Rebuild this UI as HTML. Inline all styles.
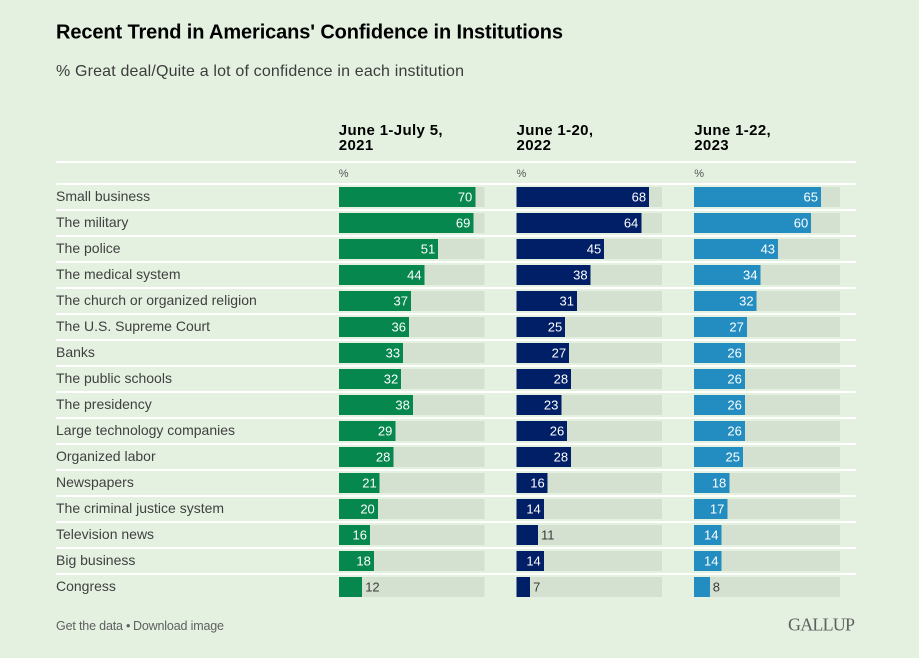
<!DOCTYPE html>
<html lang="en">
<head>
<meta charset="utf-8">
<title>Recent Trend in Americans' Confidence in Institutions</title>
<style>
html,body{margin:0;padding:0;background:#e4f1e1;width:919px;height:658px;overflow:hidden}
svg{display:block}
text{font-family:"Liberation Sans",sans-serif}
</style>
</head>
<body>
<svg id="chart" width="919" height="658" viewBox="0 0 919 658" xmlns="http://www.w3.org/2000/svg">
<rect width="919" height="658" fill="#e4f1e1"/>
<text x="56" y="38.5" font-size="20" font-weight="700" fill="#000" textLength="507">Recent Trend in Americans' Confidence in Institutions</text>
<text x="56" y="76" font-size="16" fill="#3c3c3c" textLength="408">% Great deal/Quite a lot of confidence in each institution</text>
<text x="56" y="630" font-size="12.5" fill="#5f5f5f" textLength="67">Get the data</text>
<text x="126" y="630" font-size="12.5" fill="#5f5f5f">•</text>
<text x="133" y="630" font-size="12.5" fill="#5f5f5f" textLength="91">Download image</text>
<text x="788" y="630.5" font-size="18" fill="#5f5f5f" textLength="67" style="font-family:'Liberation Serif',serif">GALLUP</text>
</svg>
<script>
var categories = ["Small business","The military","The police","The medical system","The church or organized religion","The U.S. Supreme Court","Banks","The public schools","The presidency","Large technology companies","Organized labor","Newspapers","The criminal justice system","Television news","Big business","Congress"];
var periodLine1 = ["June 1-July 5,","June 1-20,","June 1-22,"];
var periodLine2 = ["2021","2022","2023"];
var values2021 = [70,69,51,44,37,36,33,32,38,29,28,21,20,16,18,12];
var values2022 = [68,64,45,38,31,25,27,28,23,26,28,16,14,11,14,7];
var values2023 = [65,60,43,34,32,27,26,26,26,26,25,18,17,14,14,8];
var trackMax = 74.67;

var svg = document.getElementById('chart');
var NS = 'http://www.w3.org/2000/svg';
var seriesValues = [values2021, values2022, values2023];
var seriesColors = ['#06874e', '#001f66', '#238dc1'];
var seriesLeft = [338.8, 516.5, 694.2];
var slug = ['2021', '2022', '2023'];

function xLen(v) { return v * 145.6 / trackMax; }
function rowTop(i) { return 187 + i * 26; }

function make(tag, attrs, txt) {
  var el = document.createElementNS(NS, tag);
  for (var k in attrs) el.setAttribute(k, attrs[k]);
  if (txt !== undefined) el.textContent = txt;
  svg.appendChild(el);
  return el;
}
function kebab(s) {
  return s.toLowerCase().replace(/[^a-z0-9]+/g, '-').replace(/^-|-$/g, '');
}

var hdr = make('rect', {x: 56, y: 161, width: 800, height: 2, fill: '#fff'});



categories.forEach(function (cat, i) {
  var top = rowTop(i);
  var rule = make('rect', {x: 56, y: top - 4, width: 800, height: 2, fill: '#fff'});
  
  
  var lab = make('text', {x: 56, y: top + 14, 'font-size': 14, fill: '#404040'}, cat);
  
  
});

seriesValues.forEach(function (vals, s) {
  var left = seriesLeft[s];
  var h1 = make('text', {x: left, y: 135, 'font-size': 15, 'font-weight': 700, fill: '#000', 'letter-spacing': '0.35'}, periodLine1[s]);
  
  
  var h2 = make('text', {x: left, y: 150, 'font-size': 15, 'font-weight': 700, fill: '#000', 'letter-spacing': '0.35'}, periodLine2[s]);
  
  
  var pct = make('text', {x: left, y: 177, 'font-size': 11, fill: '#555'}, '%');
  
  

  vals.forEach(function (v, i) {
    var top = rowTop(i);
    var key = slug[s] + '-' + kebab(categories[i]);
    var track = make('rect', {x: left, y: top, width: xLen(trackMax), height: 20, fill: '#d5e1d0', 'shape-rendering': 'crispEdges'});
    
    
    var bar = make('rect', {x: left, y: top, width: xLen(v), height: 20, fill: seriesColors[s], 'shape-rendering': 'crispEdges'});
    
    
    var inside = xLen(v) >= 26;
    var attrs = inside
      ? {x: left + xLen(v) - 3, y: top + 14.5, 'font-size': 13, fill: '#fff', 'text-anchor': 'end'}
      : {x: left + xLen(v) + 3, y: top + 14.5, 'font-size': 13, fill: '#3c3c3c'};
    var val = make('text', attrs, v);
    
    
  });
});
</script>
</body>
</html>
